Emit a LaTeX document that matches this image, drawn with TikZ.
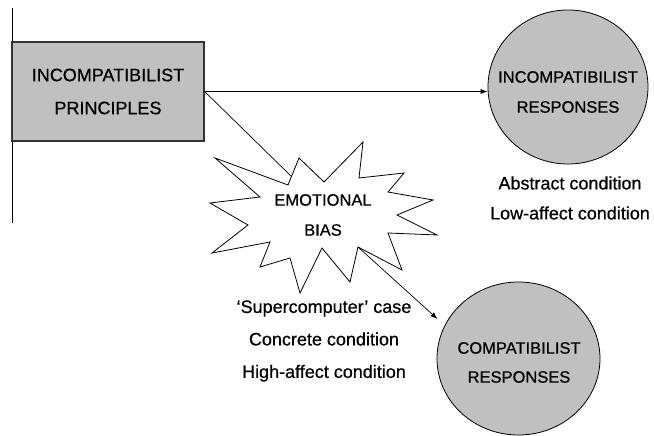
\documentclass[tikz,border=0pt]{standalone}
\usepackage{fontspec}
\setmainfont{Liberation Sans}[RawFeature={embolden=0.6}]
\usetikzlibrary{shapes.geometric,arrows.meta}
\definecolor{boxgray}{RGB}{192,192,192}
\begin{document}
\begin{tikzpicture}[x=1pt,y=-1pt,
        resp/.style={shape=ellipse,draw=black,fill=boxgray,line width=0.8pt},
        txt/.style={align=center,inner sep=0pt},
        arr/.style={-{Latex[length=7pt,width=5pt]},line width=0.7pt}]
        \useasboundingbox (0,0) rectangle (654,436);
        % margin line
        \coordinate (top) at (12,8);
        \coordinate (bot) at (12,223);
        \draw[line width=0.8pt] (top) -- (bot);
        % boxes and circles
        \node[shape=rectangle,draw=black!80,fill=boxgray,line width=1.2pt,minimum width=192pt,minimum height=99pt,txt,font=\fontsize{18}{33}\selectfont] (P) at (108,91.5) {INCOMPATIBILIST\\PRINCIPLES};
        \node[resp,minimum width=160pt,minimum height=154pt] (IR) at (568,87) {};
        \node[txt,font=\fontsize{16.5}{30}\selectfont] (IRtext) at (568,92) {INCOMPATIBILIST\\RESPONSES};
        \node[resp,minimum width=163pt,minimum height=153pt] (CR) at (518.5,358.5) {};
        \node[txt,font=\fontsize{16.5}{29}\selectfont] (CRtext) at (519,362.5) {COMPATIBILIST\\RESPONSES};
        % starburst
        \draw[line width=0.8pt] (215,158) -- (288,185) -- (299,158) -- (324,182) -- (363,142) -- (359,178)
            -- (404,173) -- (388,192) -- (433,200) -- (397,215) -- (437,235) -- (388,233)
            -- (402,270) -- (358,247) -- (350,282) -- (322,248) -- (300,293) -- (290,258)
            -- (260,267) -- (270,242) -- (212,253) -- (248,225) -- (210,203) -- (260,197) -- cycle;
        \node[txt,font=\fontsize{16.5}{30}\selectfont] (EB) at (323,215) {EMOTIONAL\\BIAS};
        \coordinate (EBin) at (291.5,176.5);
        \coordinate (EBout) at (358,247);
        \coordinate (CRtip) at (437.5,319);
        % conditions
        \node[txt,font=\fontsize{18}{30}\selectfont] (abs) at (570,198) {Abstract condition\\Low-affect condition};
        \node[txt,font=\fontsize{18}{32.5}\selectfont] (conc) at (324,341) {`Supercomputer' case\\Concrete condition\\High-affect condition};
        % connectors
        \draw[arr] (P.east) -- (P.east -| IR.west);
        \draw[line width=0.7pt] (P.east) -- (EBin);
        \draw[arr] (EBout) -- (CRtip);
    \end{tikzpicture}
\end{document}
